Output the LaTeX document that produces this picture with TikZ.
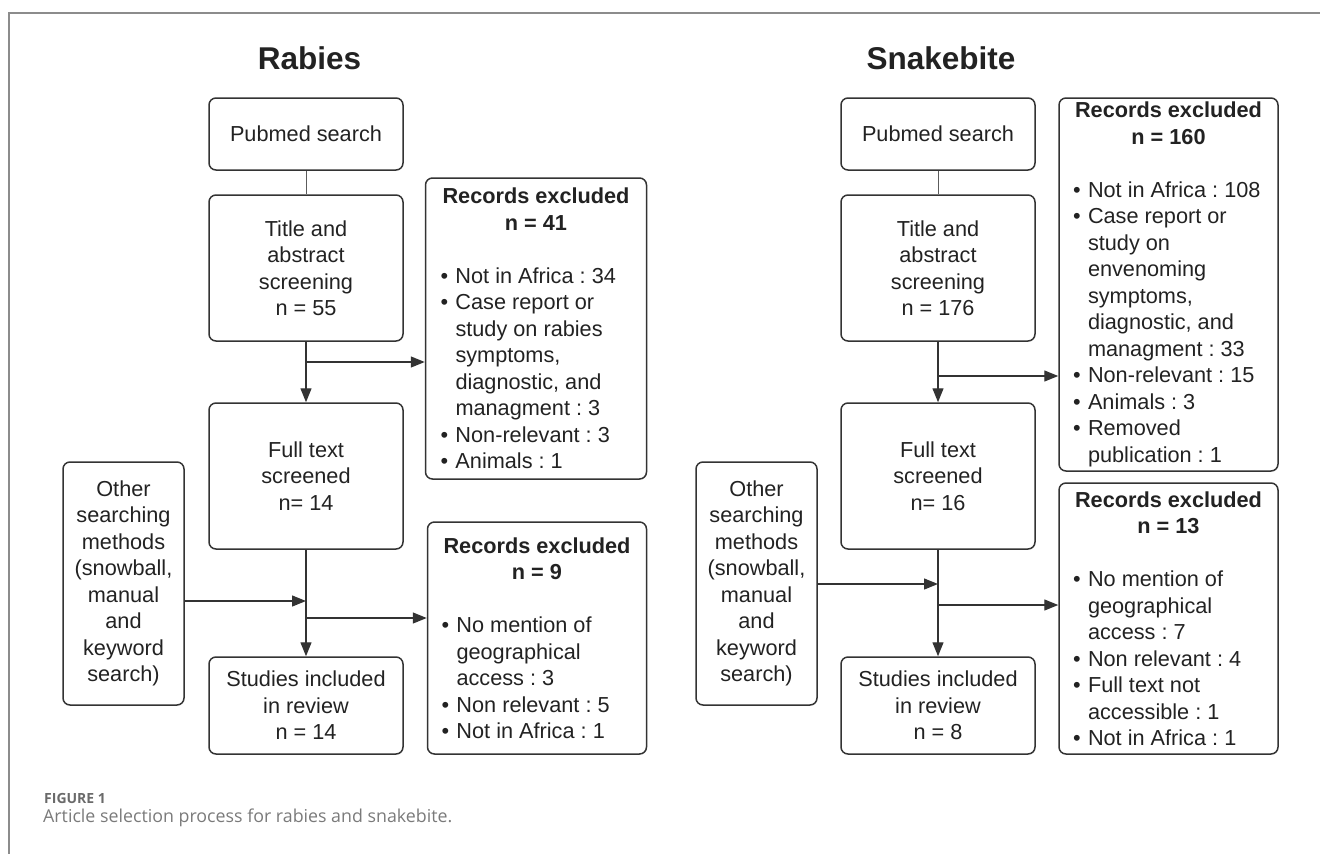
\documentclass[tikz,border=0pt]{standalone}
\usepackage{fontspec}
\setmainfont{Liberation Sans}
\newfontfamily\capfont{Open Sans}
\usetikzlibrary{arrows.meta}

\definecolor{boxline}{HTML}{333333}
\definecolor{textdark}{HTML}{222222}
\definecolor{capgray}{HTML}{7A7A7A}
\definecolor{labgray}{HTML}{6A6A6A}
\definecolor{framegray}{HTML}{8C8C8C}

\newcommand{\bl}{\makebox[15pt][l]{\textbullet}}
\newcommand{\ct}{\hspace*{15pt}}
\newcommand{\hd}[1]{\makebox[191pt][c]{\bfseries #1}}

\begin{document}
\frenchspacing
\begin{tikzpicture}[x=1pt, y=-1pt, font=\fontsize{21.7}{26.5}\selectfont, text=textdark]
   \tikzset{BoxStyle/.style={draw=boxline, line width=1.5pt, rounded corners=7pt,
      align=center, inner sep=0pt, minimum width=194pt}}
   \tikzset{ExclStyle/.style={BoxStyle, align=left, inner xsep=14pt, minimum width=#1}}
   \tikzset{FlowArrow/.style={draw=boxline, line width=1.3pt, -{Triangle[length=14pt,width=11pt]}}}
   \tikzset{LinkStyle/.style={draw=boxline!80, line width=1pt}}
   \tikzset{HeadStyle/.style={font=\bfseries\fontsize{31.5}{36}\selectfont}}
   \useasboundingbox (0,0) rectangle (1320,854);
   \draw[framegray, line width=1.5pt] (9,854) -- (9,13) -- (1320,13);
   % rabies
   \node[HeadStyle] (rabies) at (309.5,58) {Rabies};
   \node[BoxStyle, minimum height=72pt] (publ) at (306,134) {Pubmed search};
   \node[BoxStyle, minimum height=146pt] (titl) at (306,268) {Title and\\abstract\\screening\\n = 55};
   \node[BoxStyle, minimum height=146pt] (fulll) at (306,476) {Full text\\screened\\n= 14};
   \node[BoxStyle, minimum height=97pt] (studl) at (306,705.5) {Studies included\\in review\\n = 14};
   \node[BoxStyle, minimum width=121pt, minimum height=243pt] (othl) at (123.5,583.5)
      {Other\\searching\\methods\\(snowball,\\manual\\and\\keyword\\search)};
   \node[ExclStyle=221pt, minimum height=301pt] (exal) at (536,328.5)
      {\hd{Records excluded}\\\hd{n = 41}\\[26.5pt]
       \bl Not in Africa : 34\\\bl Case report or\\\ct study on rabies\\\ct symptoms,\\
       \ct diagnostic, and\\\ct managment : 3\\\bl Non-relevant : 3\\\bl Animals : 1};
   \node[ExclStyle=219pt, minimum height=232pt] (exbl) at (537,638)
      {\hd{Records excluded}\\\hd{n = 9}\\[26.5pt]
       \bl No mention of\\\ct geographical\\\ct access : 3\\\bl Non relevant : 5\\\bl Not in Africa : 1};
   \coordinate (jl1) at (306,362);
   \coordinate (jl2) at (306,601);
   \coordinate (jl3) at (306,618);
   \draw[LinkStyle] (publ) -- (titl);
   \draw[FlowArrow] (titl) -- (fulll);
   \draw[FlowArrow] (jl1) -- (jl1 -| exal.west);
   \draw[FlowArrow] (fulll) -- (studl);
   \draw[FlowArrow] (othl.east |- jl2) -- (jl2);
   \draw[FlowArrow] (jl3) -- (jl3 -| exbl.west);
   % snakebite
   \node[HeadStyle] (snake) at (941,58) {Snakebite};
   \node[BoxStyle, minimum height=72pt] (pubr) at (938,134) {Pubmed search};
   \node[BoxStyle, minimum height=146pt] (titr) at (938,268) {Title and\\abstract\\screening\\n = 176};
   \node[BoxStyle, minimum height=146pt] (fullr) at (938,476) {Full text\\screened\\n= 16};
   \node[BoxStyle, minimum height=97pt] (studr) at (938,705.5) {Studies included\\in review\\n = 8};
   \node[BoxStyle, minimum width=121pt, minimum height=243pt] (othr) at (756.5,583.5)
      {Other\\searching\\methods\\(snowball,\\manual\\and\\keyword\\search)};
   \node[ExclStyle=219pt, minimum height=373pt] (exar) at (1168.5,284.5)
      {\hd{Records excluded}\\\hd{n = 160}\\[26.5pt]
       \bl Not in Africa : 108\\\bl Case report or\\\ct study on\\\ct envenoming\\\ct symptoms,\\
       \ct diagnostic, and\\\ct managment : 33\\\bl Non-relevant : 15\\\bl Animals : 3\\
       \bl Removed\\\ct publication : 1};
   \node[ExclStyle=219pt, minimum height=271pt] (exbr) at (1168.5,618.5)
      {\hd{Records excluded}\\\hd{n = 13}\\[26.5pt]
       \bl No mention of\\\ct geographical\\\ct access : 7\\\bl Non relevant : 4\\
       \bl Full text not\\\ct accessible : 1\\\bl Not in Africa : 1};
   \coordinate (jr1) at (938,376);
   \coordinate (jr2) at (938,584);
   \coordinate (jr3) at (938,605);
   \draw[LinkStyle] (pubr) -- (titr);
   \draw[FlowArrow] (titr) -- (fullr);
   \draw[FlowArrow] (jr1) -- (jr1 -| exar.west);
   \draw[FlowArrow] (fullr) -- (studr);
   \draw[FlowArrow] (othr.east |- jr2) -- (jr2);
   \draw[FlowArrow] (jr3) -- (jr3 -| exbr.west);
   % caption
   \node[anchor=base west, inner sep=0pt, text=labgray, font=\capfont\bfseries\fontsize{14}{16}\selectfont] (figlab) at (44,803) {FIGURE 1};
   \node[anchor=base west, inner sep=0pt, text=capgray, font=\capfont\fontsize{17.8}{22}\selectfont] (figcap) at (43,822.5)
      {Article selection process for rabies and snakebite.};
\end{tikzpicture}
\end{document}
